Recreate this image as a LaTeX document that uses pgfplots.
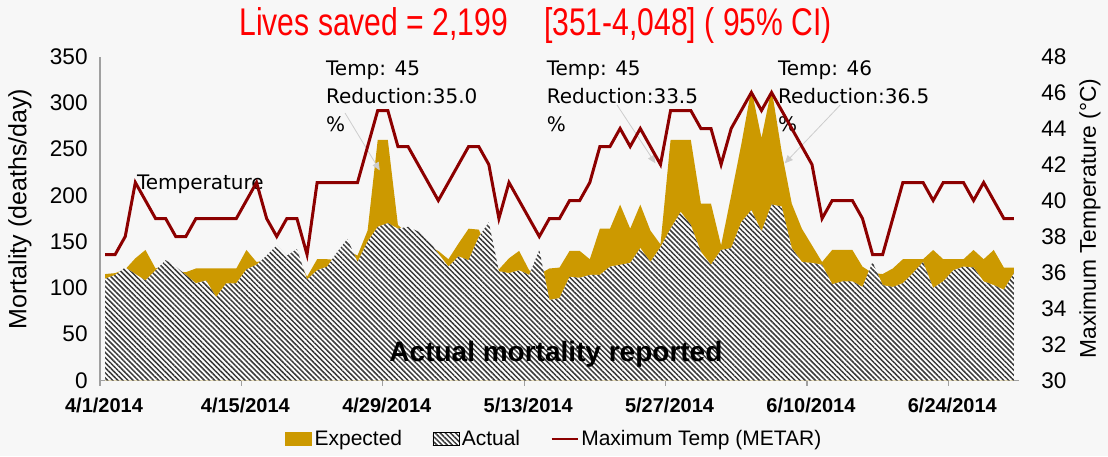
\documentclass[border=0pt]{standalone}
\usepackage{pgfplots}
\pgfplotsset{compat=1.18}
\usepackage{pgfplotstable}
\usetikzlibrary{patterns.meta, arrows.meta}
\usepackage{fontspec}
\setmainfont{Liberation Sans}
\newfontfamily\dvs{DejaVu Sans}
\newfontfamily\narrowfont[FakeStretch=0.78]{Liberation Sans}
\definecolor{gold}{RGB}{204,153,0}
\definecolor{tline}{RGB}{140,0,0}
\definecolor{bg}{RGB}{247,247,247}
\definecolor{stripe}{RGB}{58,58,58}
\definecolor{axgray}{RGB}{160,160,160}
\definecolor{arrgray}{RGB}{205,205,205}

\pgfplotstableread{
d T E A
0 37 115 110
1 37 116 114
2 38 120 122
3 41 132 115
4 40 141 108
5 39 121 119
6 39 125 130
7 38 118 123
8 38 117 114
9 39 121 105
10 39 121 108
11 39 121 90
12 39 121 105
13 39 121 105
14 40 141 120
15 41 128 125
16 39 130 135
17 38 138 146
18 39 128 135
19 39 135 142
20 37 112 109
21 41 131 119
22 41 131 123
23 41 130 139
24 41 140 153
25 41 135 128
26 43 162 150
27 45 260 166
28 45 260 170
29 43 168 164
30 43 158 166
31 42 155 161
32 41 145 152
33 40 140 137
34 41 131 123
35 42 148 134
36 43 164 130
37 43 163 155
38 42 140 171
39 39 120 118
40 41 132 116
41 40 140 119
42 39 119 114
43 38 115 141
44 39 121 87
45 39 122 89
46 40 140 112
47 40 140 111
48 41 131 114
49 43 164 114
50 43 164 123
51 44 190 125
52 43 164 127
53 44 190 143
54 43 162 128
55 42 147 144
56 45 260 164
57 45 260 182
58 45 260 168
59 44 191 139
60 44 191 125
61 42 146 141
62 44 200 143
63 45 255 171
64 46 315 184
65 45 262 161
66 46 315 190
67 45 247 188
68 44 191 143
69 43 164 128
70 42 146 127
71 39 128 125
72 40 141 104
73 40 141 107
74 40 141 107
75 39 123 101
76 37 116 128
77 37 115 103
78 39 121 101
79 41 131 105
80 41 131 116
81 41 131 128
82 40 141 100
83 41 131 107
84 41 131 119
85 41 131 123
86 40 141 122
87 41 131 107
88 40 141 103
89 39 122 98
90 39 122 116
}\data

\pgfplotsset{
 goldleg/.style={legend image code/.code={\fill[gold] (0pt,-3.2pt) rectangle (13pt,3.2pt);}},
 hatchleg/.style={legend image code/.code={\fill[white] (0pt,-3.2pt) rectangle (13pt,3.2pt);
   \fill[pattern={Lines[angle=-45,distance=1.8pt,line width=0.75pt]}, pattern color=stripe] (0pt,-3.2pt) rectangle (13pt,3.2pt);}},
 lineleg/.style={legend image code/.code={\draw[tline, line width=1.2pt] (0pt,0pt) -- (13pt,0pt);}},
}

\begin{document}
\begin{tikzpicture}
\useasboundingbox (-50pt,-37.75pt) rectangle (504pt,190.25pt);
\fill[bg] (-50pt,-37.75pt) rectangle (504pt,190.25pt);
\begin{axis}[
 at={(0pt,0pt)}, anchor=south west, scale only axis,
 width=459.5pt, height=162pt,
 xmin=-0.5, xmax=90.5, ymin=0, ymax=350,
 axis x line*=bottom, axis y line*=left,
 axis line style={-, draw=axgray, line width=0.6pt},
 xtick={-0.5,13.5,27.5,41.5,55.5,69.5,83.5},
 xticklabels={4/1/2014,4/15/2014,4/29/2014,5/13/2014,5/27/2014,6/10/2014,6/24/2014},
 xtick align=outside, major tick length=2.5pt,
 xtick style={draw=axgray, line width=0.6pt},
 ytick={0,50,...,350}, ytick style={draw=none},
 /pgf/number format/assume math mode=true,
 xticklabel style={font=\bfseries\fontsize{10}{12}\selectfont, inner sep=0pt, anchor=north, yshift=-6pt, xshift=2pt},
 yticklabel style={font=\fontsize{11.3}{13}\selectfont, inner sep=0pt, anchor=east, xshift=-6pt},
]
\addplot[fill=gold, draw=none] table[x=d,y=E] {\data} \closedcycle;
\addplot[fill=white, draw=none] table[x=d,y=A] {\data} \closedcycle;
\addplot[draw=none, pattern={Lines[angle=-45,distance=1.8pt,line width=0.75pt]}, pattern color=stripe] table[x=d,y=A] {\data} \closedcycle;

\node[anchor=base west, inner sep=0pt, font=\dvs\fontsize{10}{12}\selectfont] at (axis cs:3.13,205.8) {Temperature};

\node[anchor=base west, inner sep=0pt, font=\dvs\fontsize{10}{12}\selectfont] at (axis cs:21.85,330) {Temp: 45};
\node[anchor=base west, inner sep=0pt, font=\dvs\fontsize{10}{12}\selectfont] at (axis cs:21.85,299) {Reduction:35.0};
\node[anchor=base west, inner sep=0pt, font=\dvs\fontsize{10}{12}\selectfont] at (axis cs:21.85,269.5) {\%};

\node[anchor=base west, inner sep=0pt, font=\dvs\fontsize{10}{12}\selectfont] at (axis cs:43.7,330) {Temp: 45};
\node[anchor=base west, inner sep=0pt, font=\dvs\fontsize{10}{12}\selectfont] at (axis cs:43.7,299) {Reduction:33.5};
\node[anchor=base west, inner sep=0pt, font=\dvs\fontsize{10}{12}\selectfont] at (axis cs:43.7,269.5) {\%};

\node[anchor=base west, inner sep=0pt, font=\dvs\fontsize{10}{12}\selectfont] at (axis cs:66.6,330) {Temp: 46};
\node[anchor=base west, inner sep=0pt, font=\dvs\fontsize{10}{12}\selectfont] at (axis cs:66.6,299) {Reduction:36.5};
\node[anchor=base west, inner sep=0pt, font=\dvs\fontsize{10}{12}\selectfont] at (axis cs:66.6,269.5) {\%};

\draw[arrgray, line width=0.4pt, -{Triangle[length=4pt,width=3.5pt]}] (axis cs:23.76,289) -- (axis cs:27.2,227);
\draw[arrgray, line width=0.4pt, -{Triangle[length=4pt,width=3.5pt]}] (axis cs:50.7,297.6) -- (axis cs:54.5,234.6);
\draw[arrgray, line width=0.4pt, -{Triangle[length=4pt,width=3.5pt]}] (axis cs:72.8,297.6) -- (axis cs:67.3,234.6);

\node[anchor=base, inner sep=0pt, font=\bfseries\fontsize{14}{16}\selectfont] at (axis cs:44.65,20) {Actual mortality reported};
\end{axis}

\begin{axis}[
 at={(0pt,0pt)}, anchor=south west, scale only axis,
 width=459.5pt, height=162pt,
 xmin=-0.5, xmax=90.5, ymin=30, ymax=48,
 axis x line=none, axis y line*=right,
 y axis line style={draw=none},
 ytick={30,32,...,48}, ytick style={draw=none},
 /pgf/number format/assume math mode=true,
 yticklabel style={font=\fontsize{11.3}{13}\selectfont, inner sep=0pt, anchor=west, xshift=11pt},
 legend style={at={(0.4946,-0.1806)}, anchor=center, draw=none, fill=none,
   font=\fontsize{10.5}{12}\selectfont, legend columns=3,
   /tikz/every even column/.append style={column sep=14pt},
   inner sep=0pt, nodes={inner sep=1.2pt}},
]
\addlegendimage{goldleg}
\addlegendentry{Expected}
\addlegendimage{hatchleg}
\addlegendentry{Actual}
\addplot[tline, line width=1.5pt, lineleg] table[x=d,y=T] {\data};
\addlegendentry{Maximum Temp (METAR)}
\end{axis}

\node[anchor=base west, text=red, inner sep=0pt, font=\narrowfont\fontsize{19.3}{22}\selectfont] at (69.5pt,172.25pt) {Lives saved = 2,199\hspace{18pt}[351-4,048] ( 95\% CI)};
\node[rotate=90, inner sep=0pt, font=\fontsize{12.5}{14}\selectfont] at (-40pt,85.75pt) {Mortality (deaths/day)};
\node[rotate=90, inner sep=0pt, font=\fontsize{11.4}{13}\selectfont] at (495pt,81pt) {Maximum Temperature (°C)};
\end{tikzpicture}
\end{document}
